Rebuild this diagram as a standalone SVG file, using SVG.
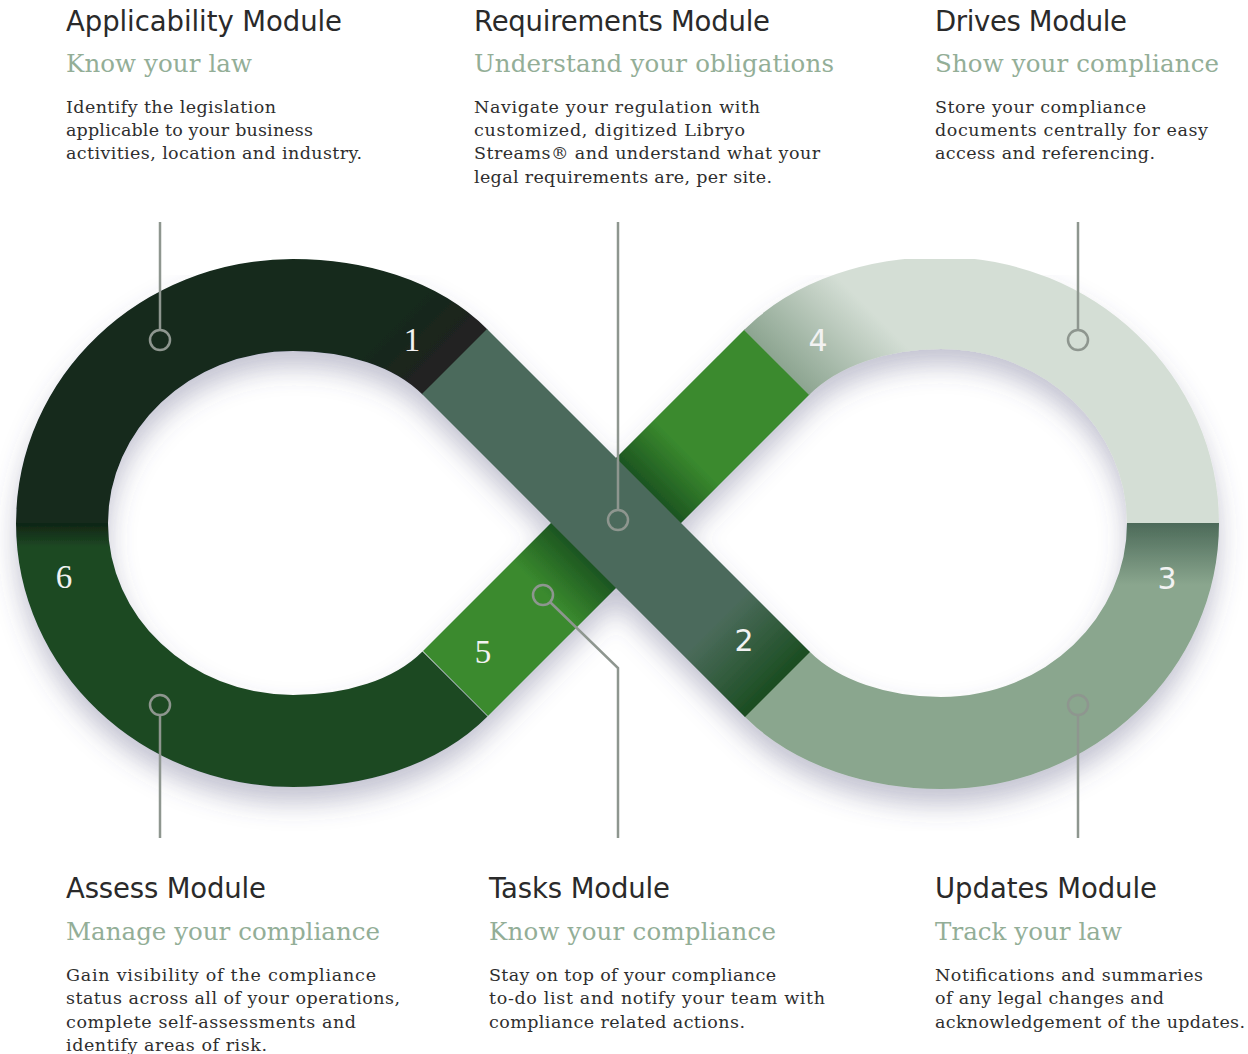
<svg xmlns="http://www.w3.org/2000/svg" width="1248" height="1054" viewBox="0 0 1248 1054">
<style>
.h{font-family:"DejaVu Sans","Liberation Sans",sans-serif;font-size:27.5px;fill:#2a2a2a}
.s{font-family:"DejaVu Serif","Liberation Serif",serif;font-size:24.5px;fill:#93ae97}
.b{font-family:"DejaVu Serif","Liberation Serif",serif;font-size:17.5px;fill:#2e2e2e}
.band{fill:none;stroke-width:92;stroke-linecap:butt}
.numS{font-family:"Liberation Serif","DejaVu Serif",serif;font-size:33px;fill:#f2f2f2;text-anchor:middle}
.numG{font-family:"DejaVu Sans","Liberation Sans",sans-serif;font-size:30px;fill:#f2f2f2;text-anchor:middle}
.ln{fill:none;stroke:#8e968f;stroke-width:2.5}
</style>
<defs>
<filter id="sh" x="-10%" y="-10%" width="120%" height="130%">
<feGaussianBlur in="SourceAlpha" stdDeviation="13"/>
<feOffset dx="0" dy="16" result="o"/>
<feFlood flood-color="#50507a" flood-opacity="0.34"/>
<feComposite in2="o" operator="in"/>
<feMerge><feMergeNode/><feMergeNode in="SourceGraphic"/></feMerge>
</filter>
<linearGradient id="g1" gradientUnits="userSpaceOnUse" x1="360" y1="360" x2="400" y2="400">
<stop offset="0" stop-color="#13291a"/><stop offset="1" stop-color="#222321"/>
</linearGradient>
<linearGradient id="g2" gradientUnits="userSpaceOnUse" x1="670" y1="670" x2="730" y2="730">
<stop offset="0" stop-color="#4b6b5b"/><stop offset="1" stop-color="#1b4d21"/>
</linearGradient>
<linearGradient id="g3" gradientUnits="userSpaceOnUse" x1="0" y1="523" x2="0" y2="585">
<stop offset="0" stop-color="#4c6a59"/><stop offset="1" stop-color="#8aa68e"/>
</linearGradient>
<linearGradient id="g4" gradientUnits="userSpaceOnUse" x1="615" y1="200" x2="687.5" y2="127.5">
<stop offset="0" stop-color="#8da591"/><stop offset="1" stop-color="#d4ded5"/>
</linearGradient>
<linearGradient id="g5" gradientUnits="userSpaceOnUse" x1="455" y1="684" x2="777" y2="362">
<stop offset="0" stop-color="#3a8a2e"/><stop offset="0.28" stop-color="#3a8a2e"/>
<stop offset="0.40" stop-color="#1c5420"/><stop offset="0.60" stop-color="#1c5420"/>
<stop offset="0.72" stop-color="#3a8a2e"/><stop offset="1" stop-color="#3a8a2e"/>
</linearGradient>
<linearGradient id="g6" gradientUnits="userSpaceOnUse" x1="0" y1="523" x2="0" y2="548">
<stop offset="0" stop-color="#0f2414"/><stop offset="1" stop-color="#1e4a24"/>
</linearGradient>
</defs>
<rect width="1248" height="1054" fill="#ffffff"/>

<g id="infinity" filter="url(#sh)">
<path id="seg6" class="band" stroke="url(#g6)" d="M455,684 C415,724 353,741 293,741 C165,741 62,643 62,523"/>
<path id="seg1" class="band" stroke="url(#g1)" d="M62,523.5 C62,403 165,305 293,305 C353,305 415,322 455,362"/>
<path id="seg5" class="band" stroke="url(#g5)" d="M455.5,683.5 L777,362"/>
<path id="seg4" class="band" stroke="url(#g4)" d="M776.5,362.5 C817,322 880,303 941,303 C1070,303 1173,403 1173,523.5"/>
<path id="seg3" class="band" stroke="url(#g3)" d="M1173,523 C1173,643 1070,743 941,743 C880,743 817,724 777,684"/>
<path id="seg2" class="band" stroke="url(#g2)" d="M454.5,361.5 L777.5,684.5"/>
</g>

<g id="numbers">
<text class="numS" x="412" y="351">1</text>
<text class="numG" x="744" y="651">2</text>
<text class="numG" x="1167" y="589">3</text>
<text class="numG" x="818" y="351">4</text>
<text class="numS" x="483" y="663">5</text>
<text class="numS" x="64" y="588">6</text>
</g>

<g id="connectors">
<path class="ln" d="M160,222 V330"/>
<circle class="ln" cx="160" cy="340" r="10"/>
<path class="ln" d="M618,222 V510"/>
<circle class="ln" cx="618" cy="520" r="10"/>
<path class="ln" d="M1078,222 V330"/>
<circle class="ln" cx="1078" cy="340" r="10"/>
<circle class="ln" cx="160" cy="705" r="10"/>
<path class="ln" d="M160,715 V838"/>
<circle class="ln" cx="543" cy="595" r="10"/>
<path class="ln" d="M550,602 L618,668 V838"/>
<circle class="ln" cx="1078" cy="705" r="10"/>
<path class="ln" d="M1078,715 V838"/>
</g>

<g id="applicability">
<text class="h" x="66" y="31" textLength="276">Applicability Module</text>
<text class="s" x="66" y="72" textLength="186">Know your law</text>
<text class="b" x="66" y="113" textLength="210">Identify the legislation</text>
<text class="b" x="66" y="136" textLength="247">applicable to your business</text>
<text class="b" x="66" y="159" textLength="296">activities, location and industry.</text>
</g>

<g id="requirements">
<text class="h" x="474" y="31" textLength="296">Requirements Module</text>
<text class="s" x="474" y="72" textLength="360">Understand your obligations</text>
<text class="b" x="474" y="113" textLength="286">Navigate your regulation with</text>
<text class="b" x="474" y="136" textLength="271">customized, digitized Libryo</text>
<text class="b" x="474" y="159" textLength="346">Streams® and understand what your</text>
<text class="b" x="474" y="183" textLength="298">legal requirements are, per site.</text>
</g>

<g id="drives">
<text class="h" x="935" y="31" textLength="192">Drives Module</text>
<text class="s" x="935" y="72" textLength="284">Show your compliance</text>
<text class="b" x="935" y="113" textLength="211">Store your compliance</text>
<text class="b" x="935" y="136" textLength="273">documents centrally for easy</text>
<text class="b" x="935" y="159" textLength="220">access and referencing.</text>
</g>

<g id="assess">
<text class="h" x="66" y="898" textLength="200">Assess Module</text>
<text class="s" x="66" y="940" textLength="314">Manage your compliance</text>
<text class="b" x="66" y="981" textLength="310">Gain visibility of the compliance</text>
<text class="b" x="66" y="1004" textLength="334">status across all of your operations,</text>
<text class="b" x="66" y="1028" textLength="290">complete self-assessments and</text>
<text class="b" x="66" y="1051" textLength="201">identify areas of risk.</text>
</g>

<g id="tasks">
<text class="h" x="489" y="898" textLength="181">Tasks Module</text>
<text class="s" x="489" y="940" textLength="287">Know your compliance</text>
<text class="b" x="489" y="981" textLength="287">Stay on top of your compliance</text>
<text class="b" x="489" y="1004" textLength="336">to-do list and notify your team with</text>
<text class="b" x="489" y="1028" textLength="256">compliance related actions.</text>
</g>

<g id="updates">
<text class="h" x="935" y="898" textLength="222">Updates Module</text>
<text class="s" x="935" y="940" textLength="187">Track your law</text>
<text class="b" x="935" y="981" textLength="268">Notifications and summaries</text>
<text class="b" x="935" y="1004" textLength="229">of any legal changes and</text>
<text class="b" x="935" y="1028" textLength="310">acknowledgement of the updates.</text>
</g>
</svg>
